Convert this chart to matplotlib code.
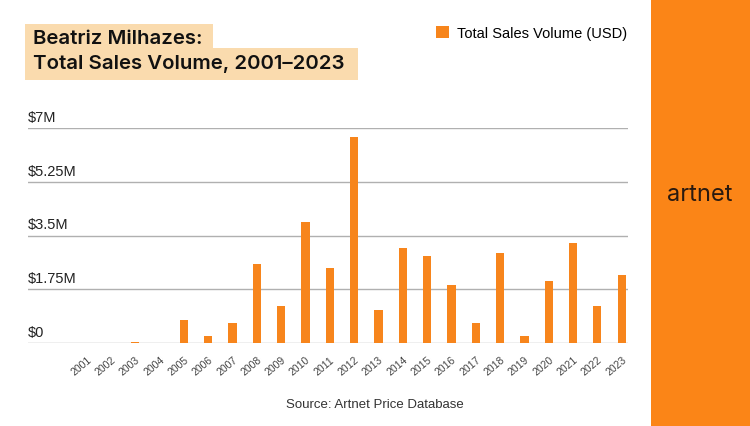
import matplotlib.pyplot as plt
from matplotlib.patches import Rectangle, Patch

years = [str(y) for y in range(2001, 2024)]
sales_musd = [0.0, 0.0, 0.02, 0.0, 0.76, 0.22, 0.64, 2.58, 1.2, 3.95, 2.44, 6.71,
              1.08, 3.08, 2.83, 1.9, 0.64, 2.92, 0.22, 2.03, 3.24, 1.2, 2.2]
ytick_vals = [0, 1.75, 3.5, 5.25, 7.0]
ytick_labels = ['$0', '$1.75M', '$3.5M', '$5.25M', '$7M']

ORANGE = '#F7851C'
PANEL = '#FB8517'
TITLE_BG = '#FADBAE'

W, H = 750, 427
fig = plt.figure(figsize=(W / 100, H / 100), dpi=100)
fig.patch.set_facecolor('white')

# orange side panel with logo
fig.patches.append(Rectangle((651 / W, 0), 1 - 651 / W, 1, transform=fig.transFigure,
                             facecolor=PANEL, edgecolor='none', zorder=0))
fig.text(700 / W, 1 - 195 / H, 'artnet', fontsize=17, color='#2a1a10',
         ha='center', va='center', family='Inter')

# title with highlight boxes
fig.patches.append(Rectangle((25 / W, 1 - 49 / H), 188 / W, 24 / H, transform=fig.transFigure,
                             facecolor=TITLE_BG, edgecolor='none', zorder=0))
fig.patches.append(Rectangle((25 / W, 1 - 81 / H), 333 / W, 32 / H, transform=fig.transFigure,
                             facecolor=TITLE_BG, edgecolor='none', zorder=0))
fig.text(33 / W, 1 - 39 / H, 'Beatriz Milhazes:', fontsize=14.7, weight='semibold',
         family='Inter', color='#111111', va='center', ha='left')
fig.text(33 / W, 1 - 64 / H, 'Total Sales Volume, 2001\u20132023', fontsize=14.7, weight='semibold',
         family='Inter', color='#111111', va='center', ha='left')

ax = fig.add_axes((28 / W, 1 - 344 / H, 600 / W, 215 / H))
x = list(range(len(years)))
ax.bar(x, sales_musd, width=0.34, color=ORANGE, zorder=3)
ax.set_xlim(-2.41, 22.26)
ax.set_ylim(0, 7.0)

for v, lab in zip(ytick_vals, ytick_labels):
    ax.axhline(v, color='#b0b0b0', linewidth=1.0, zorder=1)
    ax.annotate(lab, (0, v), xycoords=ax.get_yaxis_transform(), xytext=(0, 3),
                textcoords='offset points', fontsize=10.5, color='#222222',
                ha='left', va='bottom', family='Liberation Sans')
ax.set_yticks([])
for s in ax.spines.values():
    s.set_visible(False)

ax.set_xticks(x, years, rotation=40, ha='right', rotation_mode='anchor',
              fontsize=7.5, color='#444444', family='Liberation Sans')
ax.tick_params(axis='x', length=0, pad=8)

fig.legend(handles=[Patch(facecolor=ORANGE, edgecolor='none', label='Total Sales Volume (USD)')],
           loc='center left', bbox_to_anchor=(423 / W, 1 - 34 / H), frameon=False,
           handlelength=0.85, handleheight=0.85, handletextpad=0.6,
           prop={'family': 'Liberation Sans', 'size': 10.5})

fig.text(375 / W, 1 - 405 / H, 'Source: Artnet Price Database', fontsize=9.5,
         color='#333333', ha='center', va='center', family='Liberation Sans')

fig.savefig('out.png', dpi=100)
